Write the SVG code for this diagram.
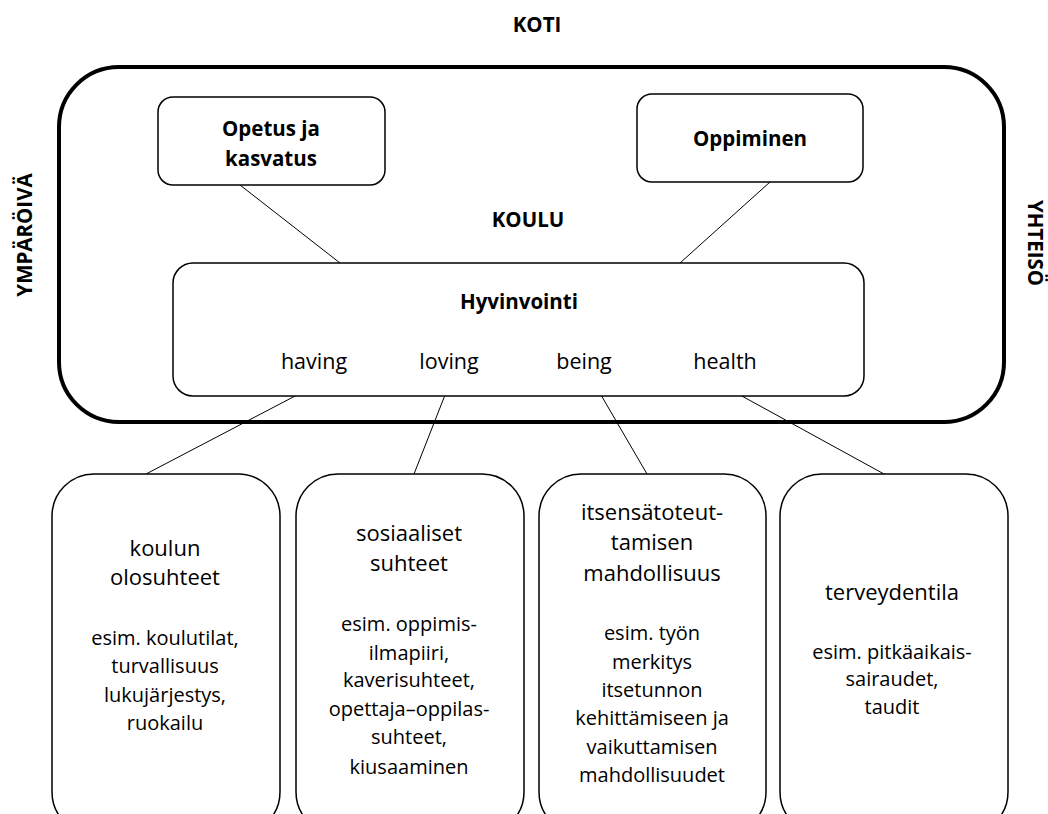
<svg xmlns="http://www.w3.org/2000/svg" width="1048" height="814" viewBox="0 0 1048 814">
<style>
text{font-family:"Open Sans","Liberation Sans",sans-serif;fill:#000;text-anchor:middle}
.b{font-weight:bold;font-size:20.5px}
.w{font-size:21.5px}
.h{font-size:22px}
.s{font-size:20px}
.box{fill:#fff;stroke:#000;stroke-width:1.5}
.c{stroke:#000;stroke-width:1;fill:none}
</style>
<rect width="1048" height="814" fill="#fff"/>
<text class="b" x="537" y="32">KOTI</text>
<text class="b" transform="translate(32,235) rotate(-90)">YMPÄRÖIVÄ</text>
<text class="b" transform="translate(1028,243) rotate(90)">YHTEISÖ</text>
<g id="koulu">
<rect x="59" y="67" width="945" height="355" rx="60" ry="60" fill="#fff" stroke="#000" stroke-width="4"/>
<text class="b" x="528" y="227">KOULU</text>
</g>
<g id="connectors">
<line class="c" x1="240" y1="185" x2="340" y2="263"/>
<line class="c" x1="770" y1="182" x2="680" y2="263"/>
<line class="c" x1="297" y1="395" x2="146" y2="474"/>
<line class="c" x1="445" y1="395" x2="414" y2="474"/>
<line class="c" x1="601" y1="395" x2="647" y2="474"/>
<line class="c" x1="740" y1="395" x2="884" y2="474"/>
</g>
<g id="opetus">
<rect class="box" x="158" y="97" width="227" height="88" rx="15"/>
<text class="b" x="271" y="136">Opetus ja</text>
<text class="b" x="271" y="166">kasvatus</text>
</g>
<g id="oppiminen">
<rect class="box" x="637" y="94" width="226" height="88" rx="15"/>
<text class="b" x="750" y="146">Oppiminen</text>
</g>
<g id="hyvinvointi">
<rect class="box" x="173" y="263" width="691" height="133" rx="20"/>
<text class="b" x="519" y="309">Hyvinvointi</text>
<text class="w" x="314" y="369">having</text>
<text class="w" x="449" y="369">loving</text>
<text class="w" x="584" y="369">being</text>
<text class="w" x="725" y="369">health</text>
</g>
<g id="having-box">
<rect class="box" x="52" y="474" width="228" height="360" rx="42"/>
<text class="h" x="165" y="556">koulun</text>
<text class="h" x="165" y="585">olosuhteet</text>
<text class="s" x="165" y="645">esim. koulutilat,</text>
<text class="s" x="165" y="673">turvallisuus</text>
<text class="s" x="165" y="702">lukujärjestys,</text>
<text class="s" x="165" y="730">ruokailu</text>
</g>
<g id="loving-box">
<rect class="box" x="296" y="474" width="228" height="360" rx="42"/>
<text class="h" x="409" y="541">sosiaaliset</text>
<text class="h" x="409" y="571">suhteet</text>
<text class="s" x="409" y="631">esim. oppimis-</text>
<text class="s" x="409" y="660">ilmapiiri,</text>
<text class="s" x="409" y="687">kaverisuhteet,</text>
<text class="s" x="409" y="716">opettaja–oppilas-</text>
<text class="s" x="409" y="744">suhteet,</text>
<text class="s" x="409" y="774">kiusaaminen</text>
</g>
<g id="being-box">
<rect class="box" x="539" y="474" width="227" height="360" rx="42"/>
<text class="h" x="652" y="520">itsensätoteut-</text>
<text class="h" x="652" y="550">tamisen</text>
<text class="h" x="652" y="581">mahdollisuus</text>
<text class="s" x="652" y="640">esim. työn</text>
<text class="s" x="652" y="669">merkitys</text>
<text class="s" x="652" y="697">itsetunnon</text>
<text class="s" x="652" y="725">kehittämiseen ja</text>
<text class="s" x="652" y="754">vaikuttamisen</text>
<text class="s" x="652" y="782">mahdollisuudet</text>
</g>
<g id="health-box">
<rect class="box" x="780" y="474" width="228" height="360" rx="42"/>
<text class="h" x="892" y="600">terveydentila</text>
<text class="s" x="892" y="659">esim. pitkäaikais-</text>
<text class="s" x="892" y="686">sairaudet,</text>
<text class="s" x="892" y="714">taudit</text>
</g>
</svg>
